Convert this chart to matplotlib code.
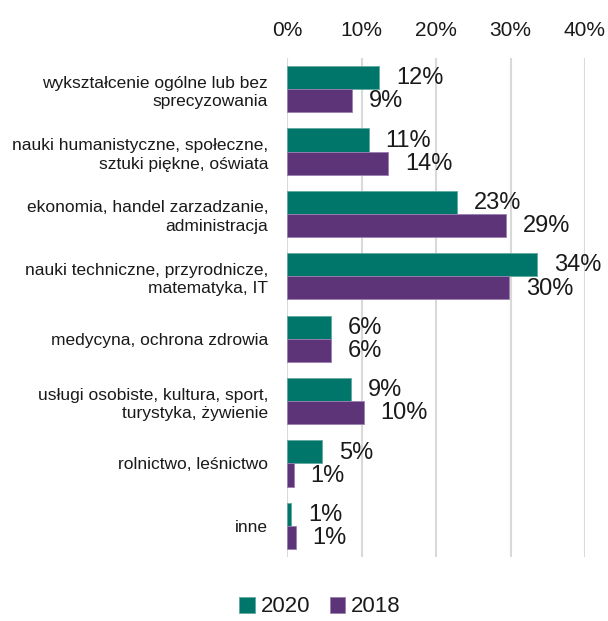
import matplotlib
matplotlib.use("Agg")
import matplotlib.pyplot as plt
import numpy as np

categories = [
    "wykształcenie ogólne lub bez\nsprecyzowania",
    "nauki humanistyczne, społeczne,\nsztuki piękne, oświata",
    "ekonomia, handel zarzadzanie,\nadministracja",
    "nauki techniczne, przyrodnicze,\nmatematyka, IT",
    "medycyna, ochrona zdrowia",
    "usługi osobiste, kultura, sport,\nturystyka, żywienie",
    "rolnictwo, leśnictwo",
    "inne",
]
values_2020 = [12.4, 11.0, 22.8, 33.6, 5.9, 8.6, 4.7, 0.6]
values_2018 = [8.7, 13.6, 29.4, 29.8, 5.9, 10.3, 0.9, 1.2]
series_names = ["2020", "2018"]
xticks = [0, 10, 20, 30, 40]

teal = "#00756A"
purple = "#5E3479"
font = ["Liberation Sans", "DejaVu Sans"]
txt = "#1a1a1a"

fig = plt.figure(figsize=(6.08, 6.21), dpi=100)
ax = fig.add_axes([287/608, 1-557/621, (585-287)/608, (557-58)/621])

y = np.arange(len(categories))
h = 0.37
b1 = ax.barh(y - h/2, values_2020, height=h, color=teal, edgecolor="#5FA9A0", linewidth=0.6, label=series_names[0], zorder=3)
b2 = ax.barh(y + h/2, values_2018, height=h, color=purple, edgecolor="#9A7FB0", linewidth=0.6, label=series_names[1], zorder=3)

for bars, vals in ((b1, values_2020), (b2, values_2018)):
    for bar, v in zip(bars, vals):
        ax.annotate(f"{v:.0f}%", (v, bar.get_y() + bar.get_height()/2),
                    xytext=(12, -0.5), textcoords="offset points",
                    ha="left", va="center", fontsize=17, family=font, color=txt)

ax.set_xlim(0, 40)
ax.set_ylim(len(categories) - 0.5, -0.5)
ax.set_xticks(xticks)
ax.set_xticklabels([f"{t}%" for t in xticks], fontsize=15, family=font, color=txt)
ax.xaxis.tick_top()
ax.tick_params(axis="x", length=0, pad=13)
ax.set_yticks(y)
ax.set_yticklabels(categories, fontsize=12.5, family=font, color=txt, linespacing=1.3)
ax.tick_params(axis="y", length=0, pad=13.5)
ax.grid(axis="x", color="#D9D9D9", linewidth=1.5, zorder=0)
for s in ax.spines.values():
    s.set_visible(False)

leg = fig.legend(handles=[b1, b2], labels=series_names, loc="center",
                 bbox_to_anchor=(320/608, 1-607/621), ncol=2, frameon=False,
                 prop={"family": font, "size": 16}, handlelength=0.7, handleheight=0.7,
                 handletextpad=0.25, columnspacing=0.9)
for t in leg.get_texts():
    t.set_color(txt)

fig.savefig("out.png", dpi=100)
